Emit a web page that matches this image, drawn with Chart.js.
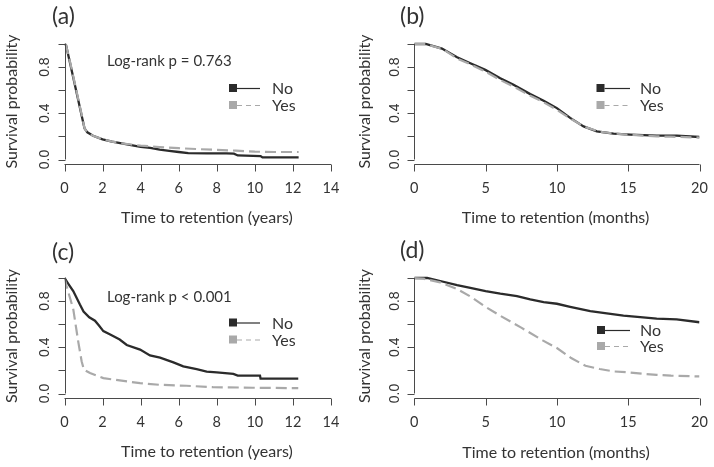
<!DOCTYPE html>
<html>
<head>
<meta charset="utf-8">
<script src="https://cdn.jsdelivr.net/npm/chart.js@4.4.1/dist/chart.umd.min.js"></script>
<style>
  body { margin: 0; background: #fff; }
  #wrap { position: relative; width: 714px; height: 467px; }
  canvas { position: absolute; }
</style>
</head>
<body>
<div id="wrap">
  <canvas id="pa" width="357" height="234" style="left:0;top:0"></canvas>
  <canvas id="pb" width="357" height="234" style="left:357px;top:0"></canvas>
  <canvas id="pc" width="357" height="233" style="left:0;top:234px"></canvas>
  <canvas id="pd" width="357" height="233" style="left:357px;top:234px"></canvas>
</div>
<script>
// (a) years, all patients
const timeA_No  = [0, 0.08, 0.3, 0.5, 0.7, 0.9, 1.05, 1.2, 1.5, 2.0, 2.5, 3.0, 3.5, 4.0, 4.5, 5.0, 5.5, 6.0, 6.5, 7.5, 8.5, 8.9, 9.1, 10.3, 10.4, 12.3];
const survA_No  = [1.0, 0.99, 0.83, 0.68, 0.53, 0.38, 0.27, 0.235, 0.205, 0.175, 0.155, 0.14, 0.125, 0.11, 0.10, 0.085, 0.075, 0.065, 0.055, 0.053, 0.053, 0.05, 0.035, 0.03, 0.018, 0.018];
const timeA_Yes = [0, 0.08, 0.3, 0.5, 0.7, 0.9, 1.05, 1.2, 1.5, 2.0, 2.5, 3.0, 3.5, 4.0, 5.0, 6.0, 7.0, 8.0, 9.0, 10.0, 11.0, 12.3];
const survA_Yes = [1.0, 0.99, 0.84, 0.69, 0.54, 0.39, 0.27, 0.235, 0.205, 0.175, 0.155, 0.14, 0.13, 0.12, 0.108, 0.098, 0.09, 0.083, 0.077, 0.068, 0.065, 0.065];

// (b) months
const timeB_No  = [0, 0.8, 1.94, 3, 3.93, 4.98, 6.03, 6.96, 8.13, 9.07, 10, 10.93, 11.87, 12.8, 13.97, 15.14, 17, 18.4, 20];
const survB_No  = [1.0, 1.0, 0.96, 0.885, 0.833, 0.776, 0.704, 0.647, 0.566, 0.509, 0.445, 0.36, 0.287, 0.244, 0.224, 0.216, 0.207, 0.207, 0.195];
const timeB_Yes = [0, 0.8, 2, 3, 4, 5, 6, 7, 8, 9, 10, 11, 12, 13, 14, 15, 17, 18, 20];
const survB_Yes = [1.0, 1.0, 0.955, 0.875, 0.82, 0.76, 0.69, 0.63, 0.56, 0.50, 0.43, 0.35, 0.28, 0.24, 0.225, 0.215, 0.20, 0.198, 0.19];

// (c) years
const timeC_No  = [0, 0.2, 0.46, 0.81, 1.0, 1.3, 1.6, 1.8, 2.04, 2.4, 2.9, 3.27, 3.97, 4.49, 5.02, 5.72, 6.24, 6.94, 7.47, 8.0, 8.87, 9.1, 10.27, 10.3, 12.28];
const survC_No  = [1.0, 0.95, 0.887, 0.77, 0.71, 0.66, 0.63, 0.59, 0.54, 0.51, 0.467, 0.42, 0.38, 0.33, 0.31, 0.27, 0.235, 0.21, 0.19, 0.183, 0.17, 0.155, 0.155, 0.128, 0.128];
const timeC_Yes = [0, 0.11, 0.46, 0.73, 0.9, 1.02, 1.34, 2.04, 2.9, 3.97, 5.02, 6.4, 7.8, 9.9, 12.28];
const survC_Yes = [1.0, 0.93, 0.73, 0.44, 0.28, 0.206, 0.177, 0.133, 0.113, 0.09, 0.075, 0.067, 0.055, 0.05, 0.046];

// (d) months
const timeD_No  = [0, 0.9, 1.82, 3, 3.93, 5, 6.03, 7.2, 8.13, 9.07, 10, 10.93, 12.34, 13.5, 14.67, 15.84, 17, 18.4, 20];
const survD_No  = [1.0, 1.0, 0.974, 0.938, 0.914, 0.887, 0.864, 0.843, 0.814, 0.791, 0.777, 0.751, 0.713, 0.693, 0.675, 0.661, 0.649, 0.641, 0.617];
const timeD_Yes = [0, 0.65, 1.82, 3, 3.93, 5, 6, 7.5, 9, 10, 11, 12, 13, 14, 15, 16, 17, 18, 20];
const survD_Yes = [1.0, 0.994, 0.962, 0.905, 0.84, 0.75, 0.675, 0.57, 0.46, 0.394, 0.307, 0.24, 0.212, 0.191, 0.183, 0.171, 0.162, 0.154, 0.148];

const groupNames = ['No', 'Yes'];
const yTicks = [0, 0.2, 0.4, 0.6, 0.8, 1.0];
const yTickLabels = ['0.0', '', '0.4', '', '0.8', ''];

const DARK = '#2b2b2b';
const GREY = '#a9a9a9';
const AXIS = '#4a4a4a';
const TEXT = '#333333';
const FONT = 'Lato, "Open Sans", sans-serif';

function pts(t, s) {
    return t.map((v, i) => ({ x: v, y: s[i] }));
}

// R-style axes, titles, legend and labels
const rStyle = {
    id: 'rStyle',
    afterDraw(chart, args, o) {
        const ctx = chart.ctx;
        const xs = chart.scales.x, ys = chart.scales.y;
        const area = chart.chartArea;
        ctx.save();
        ctx.strokeStyle = AXIS;
        ctx.lineWidth = 1;
        ctx.fillStyle = TEXT;

        // y axis
        const left = Math.round(area.left) + 0.5;
        ctx.beginPath();
        ctx.moveTo(left, ys.getPixelForValue(0));
        ctx.lineTo(left, ys.getPixelForValue(1));
        yTicks.forEach(v => {
            const y = Math.round(ys.getPixelForValue(v)) + 0.5;
            ctx.moveTo(left, y);
            ctx.lineTo(left - 7, y);
        });
        ctx.stroke();
        ctx.font = '14px "Liberation Sans", Arial, sans-serif';
        ctx.textAlign = 'center';
        ctx.textBaseline = 'middle';
        yTicks.forEach((v, i) => {
            if (!yTickLabels[i]) return;
            ctx.save();
            ctx.translate(area.left - 19.5, ys.getPixelForValue(v));
            ctx.rotate(-Math.PI / 2);
            ctx.fillText(yTickLabels[i], 0, 0);
            ctx.restore();
        });

        // x axis
        const bottom = Math.round(area.bottom) + 0.5;
        ctx.beginPath();
        ctx.moveTo(xs.getPixelForValue(xs.min), bottom);
        ctx.lineTo(xs.getPixelForValue(xs.max), bottom);
        o.xTicks.forEach(v => {
            const x = Math.round(xs.getPixelForValue(v)) + 0.5;
            ctx.moveTo(x, bottom);
            ctx.lineTo(x, bottom + 7);
        });
        ctx.stroke();
        ctx.font = '14.5px ' + FONT;
        o.xTicks.forEach(v => {
            ctx.fillText(String(v), xs.getPixelForValue(v), area.bottom + 24);
        });

        // titles
        ctx.font = '16px ' + FONT;
        ctx.fillText(o.xTitle, o.xTitlePos[0], o.xTitlePos[1]);
        ctx.save();
        ctx.translate(o.yTitlePos[0], o.yTitlePos[1]);
        ctx.rotate(-Math.PI / 2);
        ctx.fillText('Survival probability', 0, 0);
        ctx.restore();

        // panel label
        ctx.textAlign = 'left';
        ctx.font = '23px ' + FONT;
        ctx.fillText(o.label, o.labelPos[0], o.labelPos[1]);

        // log-rank note
        if (o.note) {
            ctx.font = '15px ' + FONT;
            ctx.fillText(o.note, o.notePos[0], o.notePos[1]);
        }

        // legend
        const lg = o.legend;
        [DARK, GREY].forEach((col, i) => {
            const y = lg.y[i];
            ctx.fillStyle = col;
            ctx.fillRect(lg.sq - 4, y - 4, 8, 8);
            ctx.strokeStyle = col;
            ctx.lineWidth = 1.2;
            ctx.setLineDash(i ? [5, 4] : []);
            ctx.beginPath();
            ctx.moveTo(lg.sq + 4, y + 0.5);
            ctx.lineTo(lg.lineEnd, y + 0.5);
            ctx.stroke();
            ctx.setLineDash([]);
            ctx.fillStyle = TEXT;
            ctx.font = '16px ' + FONT;
            ctx.fillText(groupNames[i], lg.text, y + 1);
        });
        ctx.restore();
    }
};

function makePanel(id, noT, noS, yesT, yesS, xMax, padLeft, padRight, padBottom, opts) {
    return new Chart(document.getElementById(id), {
        type: 'line',
        data: {
            datasets: [
                {
                    label: groupNames[1],
                    data: pts(yesT, yesS),
                    borderColor: GREY,
                    borderWidth: 2.2,
                    borderDash: [11, 5],
                    pointRadius: 0,
                    tension: 0,
                    fill: false
                },
                {
                    label: groupNames[0],
                    data: pts(noT, noS),
                    borderColor: DARK,
                    borderWidth: 2.3,
                    pointRadius: 0,
                    tension: 0,
                    fill: false
                }
            ]
        },
        options: {
            responsive: false,
            animation: false,
            devicePixelRatio: 1,
            layout: { padding: { left: padLeft, right: padRight, top: 39.38, bottom: padBottom } },
            scales: {
                x: { type: 'linear', min: 0, max: xMax, display: false },
                y: { type: 'linear', min: -0.04, max: 1.04, display: false }
            },
            plugins: {
                legend: { display: false },
                tooltip: { enabled: false },
                rStyle: opts
            }
        },
        plugins: [rStyle]
    });
}

makePanel('pa', timeA_No, survA_No, timeA_Yes, survA_Yes, 14, 64.5, 26, 69.88, {
    label: '(a)', labelPos: [52, 17],
    note: 'Log-rank p = 0.763', notePos: [107, 61.5],
    xTicks: [0, 2, 4, 6, 8, 10, 12, 14],
    xTitle: 'Time to retention (years)', xTitlePos: [207, 218], yTitlePos: [12, 101.5],
    legend: { sq: 233, lineEnd: 260, text: 272, y: [88, 105] }
});
makePanel('pb', timeB_No, survB_No, timeB_Yes, survB_Yes, 20, 57.3, 14.5, 69.88, {
    label: '(b)', labelPos: [43, 17],
    xTicks: [0, 5, 10, 15, 20],
    xTitle: 'Time to retention (months)', xTitlePos: [198.5, 218], yTitlePos: [7.5, 101.5],
    legend: { sq: 243.5, lineEnd: 273, text: 283, y: [88, 105] }
});
makePanel('pc', timeC_No, survC_No, timeC_Yes, survC_Yes, 14, 64.5, 26, 68.88, {
    label: '(c)', labelPos: [52, 19],
    note: 'Log-rank p < 0.001', notePos: [107, 63],
    xTicks: [0, 2, 4, 6, 8, 10, 12, 14],
    xTitle: 'Time to retention (years)', xTitlePos: [207, 218], yTitlePos: [12, 102],
    legend: { sq: 233, lineEnd: 260, text: 272, y: [88.5, 105.5] }
});
makePanel('pd', timeD_No, survD_No, timeD_Yes, survD_Yes, 20, 57.3, 14.5, 68.88, {
    label: '(d)', labelPos: [43, 17],
    xTicks: [0, 5, 10, 15, 20],
    xTitle: 'Time to retention (months)', xTitlePos: [199, 219], yTitlePos: [7.5, 102],
    legend: { sq: 244, lineEnd: 273, text: 283, y: [96, 112] }
});
</script>
</body>
</html>
